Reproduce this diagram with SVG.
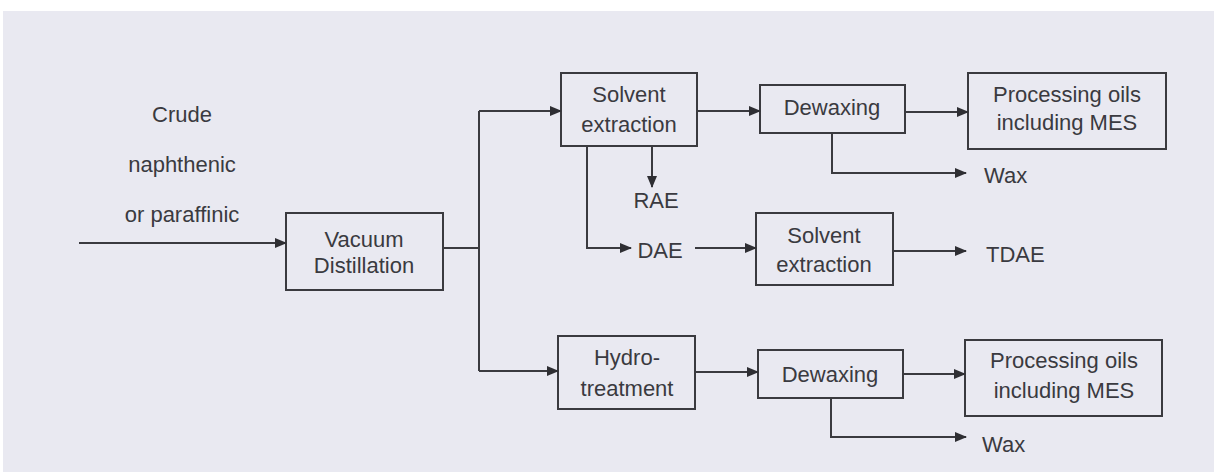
<svg xmlns="http://www.w3.org/2000/svg" width="1214" height="472" viewBox="0 0 1214 472">
  <defs>
    <marker id="arr" markerWidth="12" markerHeight="10" refX="11" refY="5" orient="auto" markerUnits="userSpaceOnUse">
      <path d="M0,0 L12,5 L0,10 Z" fill="#2e2e33"/>
    </marker>
    <style>
      .box { fill: none; stroke: #3a3a3f; stroke-width: 2; }
      .t { font-family: "Liberation Sans", Arial, sans-serif; font-size: 22px; fill: #3a3a40; text-anchor: middle; }
      .tl { font-family: "Liberation Sans", Arial, sans-serif; font-size: 22px; fill: #3a3a40; text-anchor: start; }
      .c { fill: none; stroke: #3a3a3f; stroke-width: 2; }
      .ca { fill: none; stroke: #3a3a3f; stroke-width: 2; marker-end: url(#arr); }
    </style>
  </defs>
  <rect x="0" y="0" width="1214" height="472" fill="#ffffff"/>
  <rect x="3" y="11" width="1211" height="461" fill="#e9e9f1"/>

  <g id="feed">
    <text class="t" x="182" y="122">Crude</text>
    <text class="t" x="182" y="172">naphthenic</text>
    <text class="t" x="182" y="222">or paraffinic</text>
  </g>

  <g id="vacuum">
    <rect class="box" x="286" y="213" width="157" height="77"/>
    <text class="t" x="364" y="247">Vacuum</text>
    <text class="t" x="364" y="273">Distillation</text>
  </g>

  <g id="solvent1">
    <rect class="box" x="561" y="73" width="136" height="73"/>
    <text class="t" x="629" y="102">Solvent</text>
    <text class="t" x="629" y="132">extraction</text>
  </g>

  <g id="dewax1">
    <rect class="box" x="760" y="85" width="145" height="48"/>
    <text class="t" x="832" y="115">Dewaxing</text>
  </g>

  <g id="oils1">
    <rect class="box" x="968" y="73" width="198" height="76"/>
    <text class="t" x="1067" y="102">Processing oils</text>
    <text class="t" x="1067" y="130">including MES</text>
  </g>

  <g id="wax1">
    <text class="tl" x="984" y="183">Wax</text>
  </g>

  <g id="rae">
    <text class="t" x="656" y="208">RAE</text>
  </g>

  <g id="dae">
    <text class="t" x="660" y="258">DAE</text>
  </g>

  <g id="solvent2">
    <rect class="box" x="756" y="213" width="137" height="72"/>
    <text class="t" x="824" y="243">Solvent</text>
    <text class="t" x="824" y="272">extraction</text>
  </g>

  <g id="tdae">
    <text class="tl" x="986" y="262">TDAE</text>
  </g>

  <g id="hydro">
    <rect class="box" x="558" y="336" width="137" height="73"/>
    <text class="t" x="627" y="365">Hydro-</text>
    <text class="t" x="627" y="396">treatment</text>
  </g>

  <g id="dewax2">
    <rect class="box" x="758" y="350" width="145" height="48"/>
    <text class="t" x="830" y="382">Dewaxing</text>
  </g>

  <g id="oils2">
    <rect class="box" x="965" y="340" width="197" height="76"/>
    <text class="t" x="1064" y="368">Processing oils</text>
    <text class="t" x="1064" y="398">including MES</text>
  </g>

  <g id="wax2">
    <text class="tl" x="982" y="452">Wax</text>
  </g>

  <g id="connectors">
    <path class="ca" d="M79,243 L286,243"/>
    <path class="c" d="M443,248 L479,248"/>
    <path class="c" d="M479,111 L479,371"/>
    <path class="ca" d="M479,111 L561,111"/>
    <path class="ca" d="M479,371 L558,371"/>
    <path class="ca" d="M697,111 L760,111"/>
    <path class="ca" d="M905,112 L968,112"/>
    <path class="ca" d="M832,133 L832,173 L966,173"/>
    <path class="ca" d="M652,146 L652,187"/>
    <path class="ca" d="M587,146 L587,248 L631,248"/>
    <path class="ca" d="M695,248 L756,248"/>
    <path class="ca" d="M893,251 L966,251"/>
    <path class="ca" d="M695,372 L758,372"/>
    <path class="ca" d="M903,374 L965,374"/>
    <path class="ca" d="M831,398 L831,437 L966,437"/>
  </g>
</svg>
